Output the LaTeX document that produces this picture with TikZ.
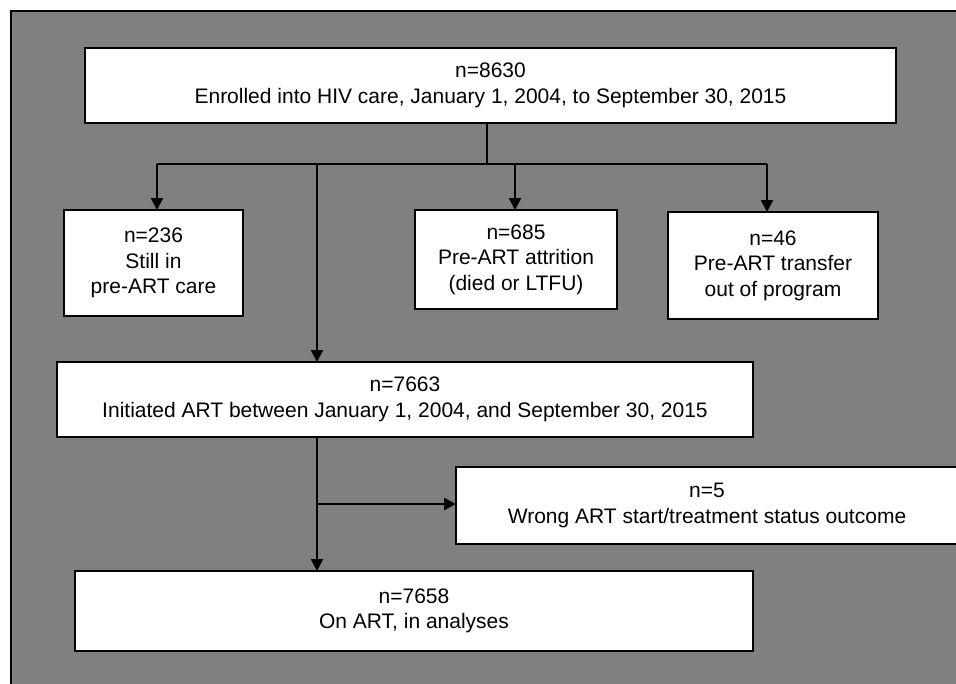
\documentclass[tikz,border=0pt]{standalone}
\usepackage{fontspec}
\setmainfont{Liberation Sans}
\usetikzlibrary{arrows.meta}
\definecolor{bg}{RGB}{128,128,128}
\begin{document}
\begin{tikzpicture}[x=1pt,y=-1pt,
  box/.style={draw=black, line width=2.6pt, fill=white, inner sep=0pt, outer sep=0pt, align=center,
    font=\fontsize{21}{25.5}\selectfont},
  conn/.style={line width=2.4pt},
  arr/.style={conn, -{Triangle[length=12pt,width=12pt]}}]
\useasboundingbox (0,0) rectangle (956,683);
\clip (0,0) rectangle (956,683);
\fill[white] (0,0) rectangle (956,683);
\fill[bg] (11,11) rectangle (970,700);
\draw[line width=2.5pt] (11,700) -- (11,11) -- (970,11);

\node[box, minimum width=811pt, minimum height=75pt] (top) at (490.5,85.5)
  {n=8630\\Enrolled into HIV care, January 1, 2004, to September 30, 2015};
\node[box, minimum width=179pt, minimum height=106pt] (b236) at (153.5,263)
  {n=236\\Still in\\pre-ART care};
\node[box, minimum width=202pt, minimum height=99pt] (b685) at (516,259.5)
  {n=685\\Pre-ART attrition\\(died or LTFU)};
\node[box, minimum width=210pt, minimum height=107pt] (b46) at (773,265.5)
  {n=46\\Pre-ART transfer\\out of program};
\node[box, minimum width=696pt, minimum height=75pt] (art) at (405,399.5)
  {n=7663\\Initiated ART between January 1, 2004, and September 30, 2015};
\node[box, minimum width=502pt, minimum height=77pt] (n5) at (707,505.5)
  {n=5\\Wrong ART start/treatment status outcome};
\node[box, minimum width=678pt, minimum height=80pt] (final) at (414,611)
  {n=7658\\On ART, in analyses};

\coordinate (j) at (487,164);
\coordinate (ja) at (157,164);
\coordinate (jb) at (515,164);
\coordinate (jc) at (767,164);
\coordinate (t) at (317,164);
\coordinate (br) at (317,504);

\draw[conn] (top.south -| j) -- (j);
\draw[conn] (ja) -- (jc);
\draw[arr] (ja) -- (b236.north -| ja);
\draw[arr] (jb) -- (b685.north -| jb);
\draw[arr] (jc) -- (b46.north -| jc);
\draw[arr] (t) -- (art.north -| t);
\draw[arr] (art.south -| t) -- (final.north -| t);
\draw[arr] (br) -- (n5.west |- br);
\end{tikzpicture}
\end{document}
